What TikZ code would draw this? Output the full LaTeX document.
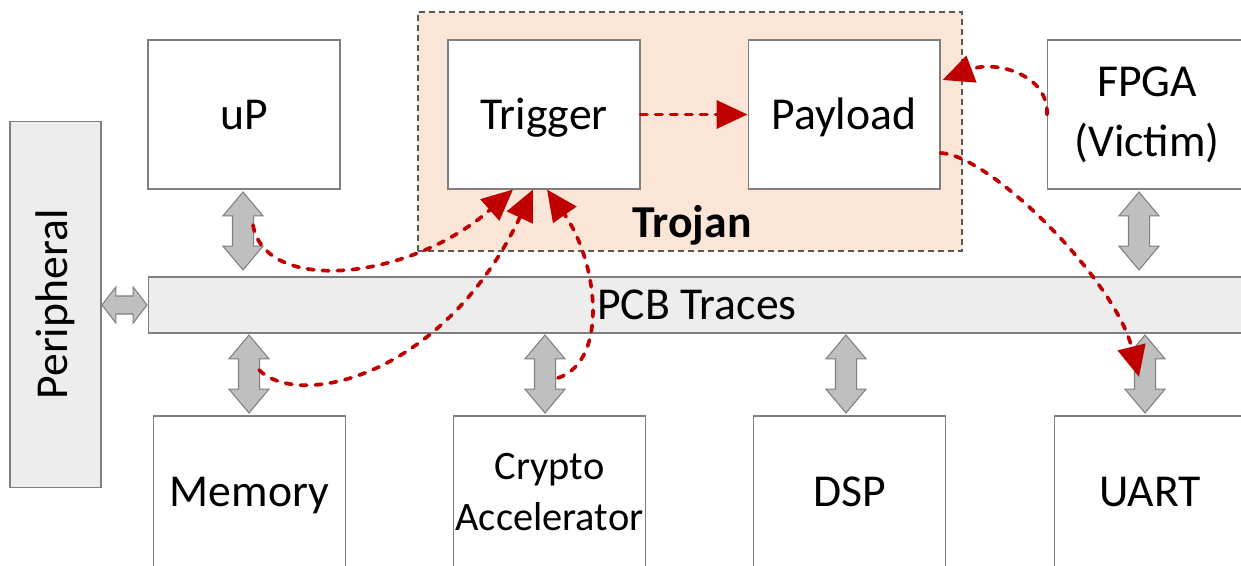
\documentclass[tikz,border=0pt]{standalone}
\usepackage{fontspec}
\setmainfont{Carlito}
\usepackage{xcolor}
\definecolor{trojfill}{HTML}{FBE5D6}
\definecolor{barfill}{HTML}{EDEDED}
\definecolor{busfill}{HTML}{BFBFBF}
\definecolor{boxgray}{HTML}{7F7F7F}
\definecolor{trojred}{HTML}{C00000}
\usepackage{tikz}
\usetikzlibrary{arrows.meta,shapes.arrows,calc}

\begin{document}
\begin{tikzpicture}[x=0.02cm, y=0.02cm, every node/.style={font=\fontsize{26}{31}\selectfont},
  blk/.style={draw=boxgray, line width=0.6pt, fill=white, inner sep=0pt, minimum width=3.84cm, minimum height=2.98cm},
  oneline/.style={text height=0.72cm, text depth=0.12cm},
  vbus/.style={double arrow, rotate=90, draw=boxgray, fill=busfill, line width=0.6pt, inner sep=0.2cm, minimum height=1.56cm, double arrow head extend=0.19cm, double arrow tip angle=80},
  hbus/.style={double arrow, draw=boxgray, fill=busfill, line width=0.6pt, inner sep=0.17cm, minimum height=0.9cm, double arrow head extend=0.18cm, double arrow tip angle=105},
  trojpath/.style={draw=trojred, line width=2.1pt, dash pattern=on 0.13cm off 0.17cm, line cap=round, -{Triangle[length=0.62cm,width=0.56cm]}}]
\clip (0,0) rectangle (1241,565);
% trojan region
\draw[draw=black!65, dash pattern=on 0.12cm off 0.08cm, line width=0.6pt, fill=trojfill] (418,314) rectangle (962,553);
\node[font=\fontsize{26}{31}\selectfont\bfseries] (trojlbl) at (692,340) {Trojan};
% blocks
\node[blk, oneline] (up) at (244,450.5) {uP};
\node[blk, oneline] (trig) at (544,450.5) {Trigger};
\node[blk, oneline] (pay) at (844,450.5) {Payload};
\node[blk, minimum width=3.98cm, align=center, font=\fontsize{26}{34}\selectfont] (fpga) at (1147,450.5) {FPGA\\(Victim)};
\node[blk, fill=barfill, minimum width=21.96cm, minimum height=1.12cm] (pcb) at (697,260) {PCB Traces};
\node[blk, fill=barfill, rotate=90, minimum width=7.34cm, minimum height=1.82cm] (peri) at (55.5,260.5) {Peripheral};
\node[blk, oneline, minimum height=3.04cm] (mem) at (249.5,73) {Memory};
\node[blk, minimum height=3.04cm, align=center, font=\fontsize{23}{29}\selectfont] (cryp) at (549.5,73) {Crypto\\Accelerator};
\node[blk, oneline, minimum height=3.04cm] (dsp) at (849.5,73) {DSP};
\node[blk, oneline, minimum height=3.04cm] (uart) at (1150,73) {UART};
% buses
\node[vbus] (upbus) at (243,334) {};
\node[vbus] (fpgabus) at (1139,334) {};
\node[vbus] (membus) at (249,191) {};
\node[vbus] (crypbus) at (545,191) {};
\node[vbus] (dspbus) at (846,191) {};
\node[vbus] (uartbus) at (1145,191) {};
\node[hbus] (peribus) at (124.5,260) {};
% trojan paths
\draw[trojpath] (trig) -- (pay);
\draw[trojpath] ([shift={(10,6)}]upbus.center) .. controls +(12,-70) and +(-103,-91) .. ([shift={(-31,0)}]trig.south);
\draw[trojpath] ([shift={(10,4)}]membus.center) .. controls +(41,-40) and +(-88,-186) .. ([shift={(-11,0)}]trig.south);
\draw[trojpath] ([shift={(13,-4)}]crypbus.center) .. controls +(52,18) and +(50,-71) .. ([shift={(3,0)}]trig.south);
\draw[trojpath] ([shift={(0,-38.5)}]pay.east) .. controls +(50,-2) and +(-24,97) .. ([shift={(-6,-3)}]uartbus.center);
\draw[trojpath] (fpga.west) .. controls +(2,40) and +(53,20) .. ([shift={(2,34.5)}]pay.east);
\end{tikzpicture}
\end{document}
